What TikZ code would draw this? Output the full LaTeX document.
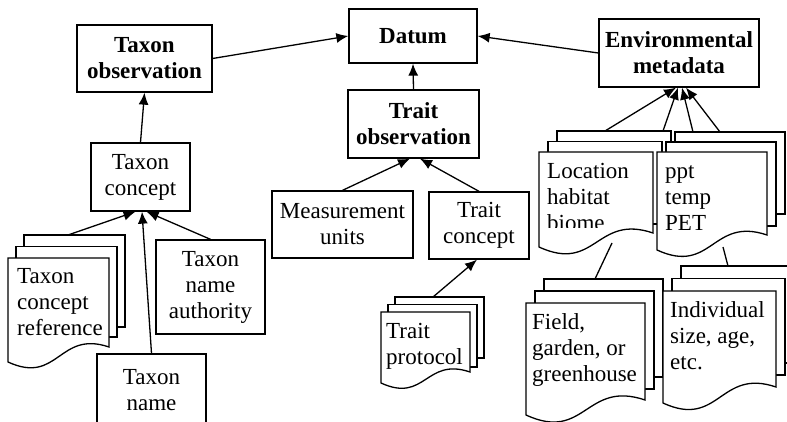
\documentclass[tikz,border=0pt]{standalone}
\usepackage{fontspec}
\setmainfont{Liberation Serif}
\usetikzlibrary{arrows.meta,calc}
\newcommand\dfont{\fontsize{23}{26}\selectfont}
\tikzset{
  lw/.style={line width=1.3pt},
  box/.style={draw, lw, fill=white, inner sep=0pt, align=center, font=\dfont},
  bbox/.style={box, font=\dfont\bfseries},
  doc/.style={draw, lw, fill=white, line join=miter},
  doctext/.style={anchor=north west, inner sep=0pt, align=left, font=\dfont},
  arr/.style={lw, -{Latex[length=12pt,width=10pt]}},
  link/.style={lw},
}
% #1 l, #2 t, #3 r, #4 left bottom, #5 right end, #6 middle bottom, #7 back bottom, #8 dx, #9 dy
\newcommand\docstack[9]{%
  \filldraw[doc] ({#1+2*#8},{#2-2*#9}) rectangle ({#3+2*#8},#7);
  \filldraw[doc] ({#1+#8},{#2-#9}) rectangle ({#3+#8},#6);
  \filldraw[doc] (#1,#2) -- (#3,#2) -- (#3,#5)
    .. controls ({(#1+#3)/2},{#5-0.17*(#3-#1)}) and ({(#1+#3)/2},{#4+0.23*(#3-#1)}) .. (#1,#4) -- cycle;
}
\begin{document}
\begin{tikzpicture}[x=1pt,y=-1pt]
\useasboundingbox (0,0) rectangle (787,422);

% document stacks
\docstack{8}{258}{109}{362}{347}{337}{327}{8}{11.5}
\docstack{381}{312}{470}{383}{372}{367}{358}{7}{7.5}
\docstack{539}{152}{653}{247}{233}{224}{214}{9}{10.5}
\begin{scope}
  \clip (539,152) rectangle (653,228);
  \node[doctext] (loc) at (547,159.8) {\strut Location\\habitat\\biome};
\end{scope}
\docstack{657}{152}{767}{250}{235}{226}{214}{9}{10}
\docstack{526}{303}{645}{415}{400}{389}{377}{9}{12}
\docstack{663}{291}{776}{403}{387}{375}{363}{9}{12.5}

\node[doctext] (tref) at (17,264.8) {\strut Taxon\\concept\\reference};
\node[doctext] (tprot) at (386,319.8) {\strut Trait\\protocol};
\node[doctext] (ppt) at (665,159.8) {\strut ppt\\temp\\PET};
\node[doctext] (field) at (532,310.8) {\strut Field,\\garden, or\\greenhouse};
\node[doctext] (indiv) at (670,298.8) {\strut Individual\\size, age,\\etc.};

% boxes
\node[bbox, minimum width=135pt, minimum height=67pt] (tobs) at (144.5,58.5) {Taxon\\observation};
\node[bbox, minimum width=128pt, minimum height=54pt] (datum) at (413,36) {Datum};
\node[bbox, minimum width=160pt, minimum height=68pt] (env) at (679,53) {Environmental\\metadata};
\node[bbox, minimum width=131pt, minimum height=68pt] (trobs) at (413.5,124) {Trait\\observation};
\node[box, minimum width=99pt, minimum height=68pt] (tcon) at (140.5,177) {Taxon\\concept};
\node[box, minimum width=141pt, minimum height=67pt] (meas) at (342.5,224.5) {Measurement\\units};
\node[box, minimum width=100pt, minimum height=67pt] (trcon) at (479,225.5) {Trait\\concept};
\node[box, minimum width=109pt, minimum height=94pt] (tauth) at (210.5,287) {Taxon\\name\\authority};
\node[box, minimum width=109pt, minimum height=72pt] (tname) at (151.5,390) {Taxon\\name};

% connection points on documents
\coordinate (trefTop) at (68,235);
\coordinate (tprotTop) at (433,297);
\coordinate (e1) at (605,131);
\coordinate (e2) at (663,131);
\coordinate (e3) at (693,132);
\coordinate (e4) at (720,132);
\coordinate (locBot) at (612,243);
\coordinate (fieldTop) at (595,279);
\coordinate (pptBot) at (723,247);
\coordinate (indivTop) at (728,266);

% connectors
\draw[arr] (tobs.east) -- (datum.west);
\draw[arr] (env.west) -- (datum.east);
\draw[arr] (trobs.north) -- (datum.south);
\draw[arr] (tcon.north) -- (tobs.south);
\draw[arr] (trefTop) -- ($(tcon.south)+(-5,0)$);
\draw[arr] (tname.north) -- ($(tcon.south)+(1.5,0)$);
\draw[arr] (tauth.north) -- ($(tcon.south)+(6,0)$);
\draw[arr] (meas.north) -- ($(trobs.south)+(-3.5,0)$);
\draw[arr] (trcon.north) -- ($(trobs.south)+(6.5,0)$);
\draw[arr] (tprotTop) -- ($(trcon.south)+(-2,0)$);
\draw[arr] (e1) -- ($(env.south)+(-3,0)$);
\draw[arr] (e2) -- ($(env.south)+(-1,0)$);
\draw[arr] (e3) -- ($(env.south)+(3,0)$);
\draw[arr] (e4) -- ($(env.south)+(7,0)$);
\draw[link] (locBot) -- (fieldTop);
\draw[link] (pptBot) -- (indivTop);
\end{tikzpicture}
\end{document}
